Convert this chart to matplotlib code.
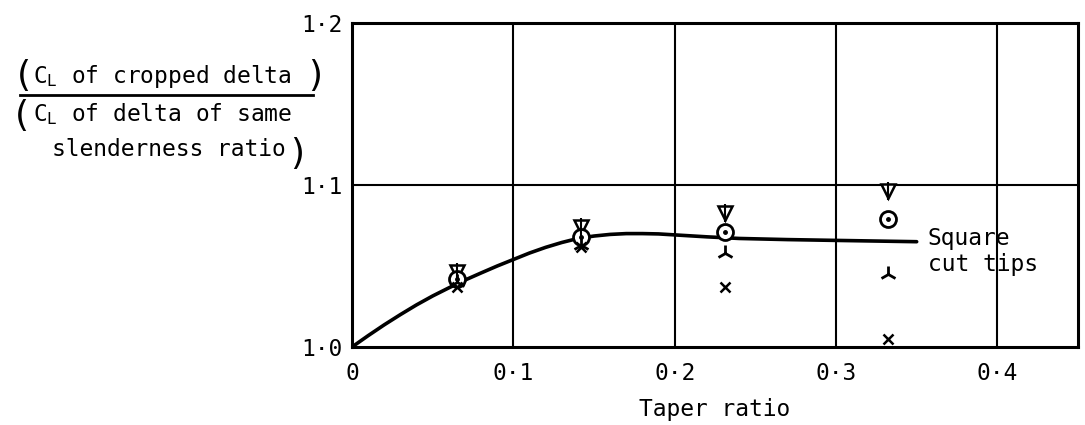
import numpy as np
import matplotlib
matplotlib.use('Agg')
import matplotlib.pyplot as plt
from matplotlib.lines import Line2D

# faired curve through the cropped-delta results
CURVE_X = [0.0, 0.01, 0.02, 0.03, 0.04, 0.05, 0.06, 0.07, 0.08, 0.09, 0.10,
           0.11, 0.12, 0.13, 0.14, 0.15, 0.16, 0.17, 0.18, 0.19, 0.20, 0.22,
           0.24, 0.27, 0.30, 0.35]
CURVE_Y = [1.0, 1.007, 1.0137, 1.020, 1.026, 1.0315, 1.0365, 1.0413, 1.0457,
           1.050, 1.054, 1.058, 1.0615, 1.0645, 1.067, 1.0685, 1.0695, 1.070,
           1.070, 1.0698, 1.0692, 1.068, 1.067, 1.0663, 1.0658, 1.065]

# test points, one list per wing family
TAPER = [0.065, 0.142, 0.231, 0.332]
CL_DOT = [1.042, 1.068, 1.071, 1.079]
CL_TRI = [1.046, 1.074, 1.083, 1.096]
CL_Y = [1.040, 1.063, 1.058, 1.045]
CL_X = [1.037, 1.062, 1.037, 1.005]

XTICKS = [0.0, 0.1, 0.2, 0.3, 0.4]
XTICKLABELS = ['0', '0·1', '0·2', '0·3', '0·4']
YTICKS = [1.0, 1.1, 1.2]
YTICKLABELS = ['1·0', '1·1', '1·2']

W, H = 1085, 425
FS = 16.5
INK = 'black'
LETTER = ['DejaVu Sans Mono', 'DejaVu Sans']

plt.rcParams['font.family'] = LETTER
plt.rcParams['mathtext.fontset'] = 'custom'
plt.rcParams['mathtext.rm'] = 'DejaVu Sans Mono'

fig = plt.figure(figsize=(W / 100, H / 100), dpi=100)
fig.patch.set_facecolor('white')


def fx(px):
    return px / W


def fy(py):
    return 1 - py / H


ax = fig.add_axes([fx(352), fy(347), fx(1078) - fx(352), fy(23) - fy(347)])
ax.set_xlim(0, 0.45)
ax.set_ylim(1.0, 1.2)

for x in XTICKS[1:]:
    ax.axvline(x, color=INK, lw=1.5, zorder=1)
ax.axhline(1.1, color=INK, lw=1.5, zorder=1)
for s in ax.spines.values():
    s.set_linewidth(2.2)
    s.set_color(INK)

ax.plot(CURVE_X, CURVE_Y, color=INK, lw=2.6, solid_capstyle='round',
        solid_joinstyle='round', zorder=3)

ax.plot(TAPER, CL_TRI, ls='none', marker='v', ms=10, mfc='white', mec=INK, mew=1.8, zorder=4)
ax.plot(TAPER, CL_TRI, ls='none', marker='|', ms=13, mec=INK, mew=1.5, zorder=5)
ax.plot(TAPER, CL_DOT, ls='none', marker='o', ms=11.5, mfc='white', mec=INK, mew=2.0, zorder=4)
ax.plot(TAPER, CL_DOT, ls='none', marker='.', ms=5, color=INK, zorder=5)
ax.plot(TAPER, CL_Y, ls='none', marker='2', ms=12, mec=INK, mew=2.0, zorder=4)
ax.plot(TAPER, CL_X, ls='none', marker='x', ms=7, mec=INK, mew=1.8, zorder=4)

ax.set_xticks(XTICKS)
ax.set_xticklabels(XTICKLABELS, fontsize=FS)
ax.set_yticks(YTICKS)
ax.set_yticklabels(YTICKLABELS, fontsize=FS)
ax.tick_params(axis='x', length=0, pad=11)
ax.tick_params(axis='y', length=0, pad=7)
ax.set_xlabel('Taper ratio', fontsize=FS, labelpad=9)

ax.text(0.357, 1.059, 'Square\ncut tips', fontsize=FS, va='center', ha='left',
        linespacing=1.15)

# ratio label on the left: numerator, fraction bar, denominator
PAREN = dict(fontsize=26, family='DejaVu Sans', va='center', ha='left')
fig.text(fx(17), fy(76), '(', **PAREN)
fig.text(fx(33), fy(76), r'C$_\mathregular{L}$ of cropped delta', fontsize=FS,
         va='center', ha='left')
fig.text(fx(308), fy(76), ')', **PAREN)
fig.add_artist(Line2D([fx(20), fx(313)], [fy(95), fy(95)], color=INK, lw=2.0))
fig.text(fx(15), fy(116), '(', **PAREN)
fig.text(fx(33), fy(114), r'C$_\mathregular{L}$ of delta of same', fontsize=FS,
         va='center', ha='left')
fig.text(fx(52), fy(149), 'slenderness ratio', fontsize=FS, va='center', ha='left')
fig.text(fx(290), fy(154), ')', **PAREN)

fig.savefig('out.png', dpi=100, facecolor='white')
